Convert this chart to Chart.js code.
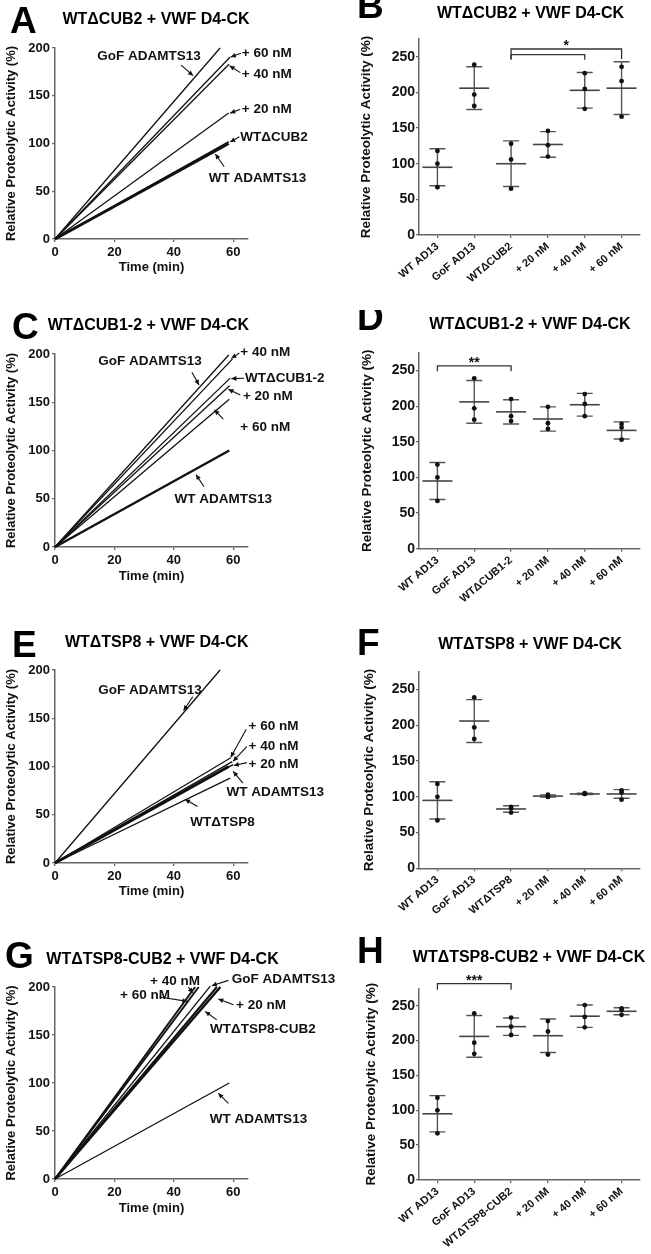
<!DOCTYPE html>
<html>
<head>
<meta charset="utf-8">
<script src="https://cdn.jsdelivr.net/npm/chart.js@4.4.1/dist/chart.umd.min.js"></script>
<style>
  body { margin: 0; background: #fff; }
  #fig { position: relative; width: 651px; height: 1254px; overflow: hidden; background: #fff; }
  canvas { position: absolute; }
</style>
</head>
<body>
<div id="fig">
  <canvas id="cA" width="340" height="310" style="left:0;top:0"></canvas>
  <canvas id="cC" width="340" height="310" style="left:0;top:310px"></canvas>
  <canvas id="cE" width="340" height="310" style="left:0;top:620px"></canvas>
  <canvas id="cG" width="340" height="324" style="left:0;top:930px"></canvas>
  <canvas id="cB" width="326" height="310" style="left:325px;top:0"></canvas>
  <canvas id="cD" width="326" height="310" style="left:325px;top:310px"></canvas>
  <canvas id="cF" width="326" height="310" style="left:325px;top:620px"></canvas>
  <canvas id="cH" width="326" height="324" style="left:325px;top:930px"></canvas>
</div>
<script>
const FONT = "'Liberation Sans', Arial, Helvetica, sans-serif"
const INK = '#111'
const AXIS = '#666'
const Y_TITLE = 'Relative Proteolytic Activity (%)'

// ---- time course panels (A, C, E, G): each line runs from 0 to its end point
const linesA = ['GoF ADAMTS13', '+ 60 nM', '+ 40 nM', '+ 20 nM', 'WTΔCUB2', 'WT ADAMTS13']
const endTimeA = [55.6, 59, 58.6, 58.5, 58.5, 58.5]
const endActA = [200, 190.5, 183, 132, 102, 100]

const linesC = ['GoF ADAMTS13', '+ 40 nM', 'WTΔCUB1-2', '+ 20 nM', '+ 60 nM', 'WT ADAMTS13']
const endTimeC = [58.5, 59.8, 59, 58.8, 58.7, 58.7]
const endActC = [199, 195, 175, 167, 153, 100]

const linesE = ['GoF ADAMTS13', '+ 60 nM', '+ 40 nM', '+ 20 nM', 'WT ADAMTS13', 'WTΔTSP8']
const endTimeE = [55.6, 59.2, 59.7, 60, 58.5, 59]
const endActE = [200, 109, 105, 102, 100, 88]

const linesG = ['+ 60 nM', '+ 40 nM', 'GoF ADAMTS13', '+ 20 nM', 'WTΔTSP8-CUB2', 'WT ADAMTS13']
const endTimeG = [47.2, 48.4, 52.3, 54.5, 55.7, 58.7]
const endActG = [200, 200, 201, 200, 200, 100]

// ---- dot plot panels (B, D, F, H)
const catsB = ['WT AD13', 'GoF AD13', 'WTΔCUB2', '+ 20 nM', '+ 40 nM', '+ 60 nM']
const meanB = [95, 206, 100, 127, 203, 206]
const sdB = [26, 30, 32, 18, 25, 37]
const rep1B = [118, 239, 128, 146, 227, 236]
const rep2B = [100, 197, 106, 126, 205, 216]
const rep3B = [67, 181, 65, 110, 177, 166]

const catsD = ['WT AD13', 'GoF AD13', 'WTΔCUB1-2', '+ 20 nM', '+ 40 nM', '+ 60 nM']
const meanD = [95, 206, 192, 182, 202, 166]
const sdD = [26, 30, 17, 17, 16, 12]
const rep1D = [118, 239, 210, 199, 217, 175]
const rep2D = [100, 197, 186, 176, 203, 170]
const rep3D = [67, 181, 179, 168, 186, 153]

const catsF = ['WT AD13', 'GoF AD13', 'WTΔTSP8', '+ 20 nM', '+ 40 nM', '+ 60 nM']
const meanF = [95, 206, 83, 101, 104, 104]
const sdF = [26, 30, 4.5, 1.5, 1, 6]
const rep1F = [118, 239, 86, 103, 105, 109]
const rep2F = [100, 197, 84, 100, 104, 106]
const rep3F = [67, 181, 78, 100, 104, 96]

const catsH = ['WT AD13', 'GoF AD13', 'WTΔTSP8-CUB2', '+ 20 nM', '+ 40 nM', '+ 60 nM']
const meanH = [95, 206, 220, 207, 235, 242]
const sdH = [26, 30, 12.5, 24, 16, 5]
const rep1H = [118, 239, 233, 228, 251, 246]
const rep2H = [100, 197, 220, 213, 234, 244]
const rep3H = [67, 181, 208, 180, 219, 237]

// line widths per series (style, not data)
const widthA = [1.3, 1.3, 1.3, 1.3, 1.3, 3]
const widthC = [1.3, 1.3, 1.3, 1.3, 1.3, 2.4]
const widthE = [1.3, 1.3, 1.3, 1.3, 3, 1.3]
const widthG = [2, 2, 1.3, 2, 2.4, 1.3]

function panelText(letter, title) {
  return {
    id: 'panelText',
    afterDraw(chart) {
      const ctx = chart.ctx
      ctx.save()
      ctx.fillStyle = '#000'
      ctx.textAlign = 'left'
      ctx.textBaseline = 'alphabetic'
      ctx.font = `bold 37px ${FONT}`
      ctx.fillText(letter.text, letter.x, letter.y)
      ctx.textAlign = 'center'
      ctx.textBaseline = 'middle'
      ctx.font = `bold 16px ${FONT}`
      ctx.fillText(title.text, title.x, title.y)
      ctx.restore()
    }
  }
}

function drawArrow(ctx, x1, y1, x2, y2) {
  ctx.beginPath()
  ctx.moveTo(x1, y1)
  ctx.lineTo(x2, y2)
  ctx.stroke()
  const a = Math.atan2(y2 - y1, x2 - x1)
  const L = 5, w = 2.4
  ctx.beginPath()
  ctx.moveTo(x2, y2)
  ctx.lineTo(x2 - L * Math.cos(a) + w * Math.sin(a), y2 - L * Math.sin(a) - w * Math.cos(a))
  ctx.lineTo(x2 - L * Math.cos(a) - w * Math.sin(a), y2 - L * Math.sin(a) + w * Math.cos(a))
  ctx.closePath()
  ctx.fill()
}

// labels with arrows, placed in data units
function callouts(notes) {
  return {
    id: 'callouts',
    afterDatasetsDraw(chart) {
      const { ctx, scales: { x, y } } = chart
      ctx.save()
      ctx.fillStyle = INK
      ctx.strokeStyle = INK
      ctx.lineWidth = 1.1
      ctx.font = `bold 13.5px ${FONT}`
      ctx.textBaseline = 'middle'
      notes.forEach(n => {
        ctx.textAlign = n.align
        ctx.fillText(n.text, x.getPixelForValue(n.tx), y.getPixelForValue(n.ty))
        const [x1, y1, x2, y2] = n.arrow
        drawArrow(ctx, x.getPixelForValue(x1), y.getPixelForValue(y1), x.getPixelForValue(x2), y.getPixelForValue(y2))
      })
      ctx.restore()
    }
  }
}

function errorBars(mean, sd) {
  return {
    id: 'errorBars',
    beforeDatasetsDraw(chart) {
      const { ctx, scales: { x, y } } = chart
      ctx.save()
      mean.forEach((m, i) => {
        const cx = x.getPixelForValue(i)
        const ym = y.getPixelForValue(m)
        const yt = y.getPixelForValue(m + sd[i])
        const yb = y.getPixelForValue(m - sd[i])
        ctx.strokeStyle = '#555'
        ctx.lineWidth = 1.4
        ctx.beginPath()
        ctx.moveTo(cx, yt); ctx.lineTo(cx, yb)
        ctx.moveTo(cx - 8, yt); ctx.lineTo(cx + 8, yt)
        ctx.moveTo(cx - 8, yb); ctx.lineTo(cx + 8, yb)
        ctx.stroke()
        ctx.strokeStyle = '#444'
        ctx.lineWidth = 1.6
        ctx.beginPath()
        ctx.moveTo(cx - 15, ym); ctx.lineTo(cx + 15, ym)
        ctx.stroke()
      })
      ctx.restore()
    }
  }
}

function sigBrackets(list) {
  return {
    id: 'sigBrackets',
    afterDraw(chart) {
      const { ctx, scales: { x, y } } = chart
      ctx.save()
      ctx.strokeStyle = '#333'
      ctx.fillStyle = INK
      ctx.lineWidth = 1.3
      list.forEach(b => {
        const x1 = x.getPixelForValue(b.from), x2 = x.getPixelForValue(b.to)
        const yy = y.getPixelForValue(b.y), ye = y.getPixelForValue(b.end)
        ctx.beginPath()
        ctx.moveTo(x1, ye); ctx.lineTo(x1, yy); ctx.lineTo(x2, yy); ctx.lineTo(x2, ye)
        ctx.stroke()
        if (b.label) {
          ctx.font = `bold 14px ${FONT}`
          ctx.textAlign = 'center'
          ctx.textBaseline = 'alphabetic'
          ctx.fillText(b.label, (x1 + x2) / 2, yy + 1)
        }
      })
      ctx.restore()
    }
  }
}

const gridOpts = { display: true, drawOnChartArea: false, drawTicks: true, tickLength: 3, color: AXIS, lineWidth: 1.3 }
const borderOpts = { display: true, color: AXIS, width: 1.5 }

function timeChart(id, cfg) {
  const canvas = document.getElementById(id)
  const W = canvas.width, H = canvas.height
  const { area } = cfg
  new Chart(canvas, {
    type: 'scatter',
    data: {
      datasets: cfg.names.map((name, i) => ({
        label: name,
        data: [{ x: 0, y: 0 }, { x: cfg.endT[i], y: cfg.endV[i] }],
        showLine: true,
        borderColor: INK,
        borderWidth: cfg.widths[i],
        pointRadius: 0,
        clip: false
      }))
    },
    options: {
      responsive: false,
      animation: false,
      events: [],
      layout: { padding: { left: 0, top: area.top, right: W - area.right, bottom: 0 } },
      plugins: { legend: { display: false }, tooltip: { enabled: false } },
      scales: {
        x: {
          type: 'linear', min: 0, max: 65,
          afterFit: s => { s.height = H - area.bottom },
          ticks: { stepSize: 20, includeBounds: false, color: INK, padding: 3, font: { family: FONT, size: 13, weight: 'bold' } },
          grid: gridOpts, border: borderOpts,
          title: { display: true, text: 'Time (min)', color: INK, font: { family: FONT, size: 13, weight: 'bold' }, padding: { top: 0, bottom: cfg.xTitlePad } }
        },
        y: {
          min: 0, max: 200,
          afterFit: s => { s.width = area.left },
          ticks: { stepSize: 50, color: INK, padding: 2, font: { family: FONT, size: 13, weight: 'bold' } },
          grid: gridOpts, border: borderOpts,
          title: { display: true, text: Y_TITLE, color: INK, font: { family: FONT, size: 13, weight: 'bold' }, padding: { top: 4, bottom: 0 } }
        }
      }
    },
    plugins: [panelText(cfg.letter, cfg.title), callouts(cfg.notes)]
  })
}

function dotChart(id, cfg) {
  const canvas = document.getElementById(id)
  const W = canvas.width, H = canvas.height
  const { area } = cfg
  new Chart(canvas, {
    type: 'line',
    data: {
      labels: cfg.cats,
      datasets: cfg.reps.map(r => ({
        data: r, showLine: false, pointRadius: 2.4, pointBorderWidth: 0,
        pointBackgroundColor: INK, clip: false
      }))
    },
    options: {
      responsive: false,
      animation: false,
      events: [],
      layout: { padding: { left: 0, top: area.top, right: W - area.right, bottom: 0 } },
      plugins: { legend: { display: false }, tooltip: { enabled: false } },
      scales: {
        x: {
          type: 'category', offset: true,
          afterFit: s => { s.height = H - area.bottom },
          ticks: { autoSkip: false, minRotation: 40, maxRotation: 40, color: INK, padding: 2, font: { family: FONT, size: 11, weight: 'bold' } },
          grid: gridOpts, border: borderOpts
        },
        y: {
          min: 0, max: 275,
          afterFit: s => { s.width = area.left },
          ticks: { stepSize: 50, includeBounds: false, color: INK, padding: 1, font: { family: FONT, size: 14, weight: 'bold' } },
          grid: gridOpts, border: borderOpts,
          title: { display: true, text: Y_TITLE, color: INK, font: { family: FONT, size: 13.5, weight: 'bold' }, padding: { top: cfg.yTitlePad, bottom: 0 } }
        }
      }
    },
    plugins: [panelText(cfg.letter, cfg.title), errorBars(cfg.mean, cfg.sd), sigBrackets(cfg.brackets)]
  })
}

timeChart('cA', {
  names: linesA, endT: endTimeA, endV: endActA, widths: widthA,
  area: { left: 55, right: 248, top: 48, bottom: 239 }, xTitlePad: 35,
  letter: { text: 'A', x: 10, y: 33 },
  title: { text: 'WTΔCUB2 + VWF D4-CK', x: 156, y: 20 },
  notes: [
    { text: 'GoF ADAMTS13', tx: 31.7, ty: 191.6, align: 'center', arrow: [42.5, 182, 46.5, 171] },
    { text: '+ 60 nM', tx: 62.9, ty: 194.4, align: 'left', arrow: [62.6, 194.4, 59.2, 190.5] },
    { text: '+ 40 nM', tx: 62.9, ty: 172.8, align: 'left', arrow: [62.4, 174.2, 58.8, 181.5] },
    { text: '+ 20 nM', tx: 62.9, ty: 135.8, align: 'left', arrow: [62.4, 135.8, 59, 131.8] },
    { text: 'WTΔCUB2', tx: 62.4, ty: 107, align: 'left', arrow: [62.1, 107, 59, 101.5] },
    { text: 'WT ADAMTS13', tx: 68.2, ty: 63.6, align: 'center', arrow: [57, 75.7, 54, 89] }
  ]
})

timeChart('cC', {
  names: linesC, endT: endTimeC, endV: endActC, widths: widthC,
  area: { left: 55, right: 248, top: 44, bottom: 237 }, xTitlePad: 35.5,
  letter: { text: 'C', x: 12, y: 29 },
  title: { text: 'WTΔCUB1-2 + VWF D4-CK', x: 148.5, y: 16 },
  notes: [
    { text: 'GoF ADAMTS13', tx: 32, ty: 192, align: 'center', arrow: [46.1, 181, 48.5, 168] },
    { text: '+ 40 nM', tx: 62.4, ty: 201.8, align: 'left', arrow: [62.1, 201, 59.4, 195.5] },
    { text: 'WTΔCUB1-2', tx: 64, ty: 174.8, align: 'left', arrow: [63.7, 174.8, 59.4, 174.5] },
    { text: '+ 20 nM', tx: 63.3, ty: 155.8, align: 'left', arrow: [62.4, 157.5, 58.4, 163.4] },
    { text: '+ 60 nM', tx: 62.4, ty: 124, align: 'left', arrow: [56.7, 132.6, 53.7, 142] },
    { text: 'WT ADAMTS13', tx: 56.7, ty: 49.7, align: 'center', arrow: [50.2, 62.5, 47.5, 75] }
  ]
})

timeChart('cE', {
  names: linesE, endT: endTimeE, endV: endActE, widths: widthE,
  area: { left: 55, right: 248, top: 50, bottom: 243 }, xTitlePad: 30.5,
  letter: { text: 'E', x: 12, y: 37 },
  title: { text: 'WTΔTSP8 + VWF D4-CK', x: 156.7, y: 22.7 },
  notes: [
    { text: 'GoF ADAMTS13', tx: 32, ty: 178.5, align: 'center', arrow: [46.4, 172.3, 43.3, 158] },
    { text: '+ 60 nM', tx: 65.2, ty: 142, align: 'left', arrow: [64.4, 138.6, 59.2, 109.5] },
    { text: '+ 40 nM', tx: 65.2, ty: 120.6, align: 'left', arrow: [64.6, 120.6, 60, 105.5] },
    { text: '+ 20 nM', tx: 65.2, ty: 102.4, align: 'left', arrow: [64.6, 104, 60.2, 101] },
    { text: 'WT ADAMTS13', tx: 74.2, ty: 73, align: 'center', arrow: [63.3, 82.7, 60, 95] },
    { text: 'WTΔTSP8', tx: 56.4, ty: 42.4, align: 'center', arrow: [48, 58.6, 43.8, 66] }
  ]
})

timeChart('cG', {
  names: linesG, endT: endTimeG, endV: endActG, widths: widthG,
  area: { left: 55, right: 248, top: 57, bottom: 249 }, xTitlePad: 38,
  letter: { text: 'G', x: 5, y: 38 },
  title: { text: 'WTΔTSP8-CUB2 + VWF D4-CK', x: 162.5, y: 29.3 },
  notes: [
    { text: '+ 40 nM', tx: 40.4, ty: 205.8, align: 'center', arrow: [44.9, 200, 46.4, 193.7] },
    { text: '+ 60 nM', tx: 30.3, ty: 190.9, align: 'center', arrow: [35.2, 189.6, 44.6, 185] },
    { text: 'GoF ADAMTS13', tx: 59.5, ty: 208.3, align: 'left', arrow: [58.4, 206.9, 52.8, 201.4] },
    { text: '+ 20 nM', tx: 61, ty: 180.5, align: 'left', arrow: [60.1, 181.5, 55, 187.5] },
    { text: 'WTΔTSP8-CUB2', tx: 52.2, ty: 156.1, align: 'left', arrow: [54.5, 165.8, 50.6, 174.5] },
    { text: 'WT ADAMTS13', tx: 68.5, ty: 62.4, align: 'center', arrow: [58.4, 78.8, 55, 89.2] }
  ]
})

dotChart('cB', {
  cats: catsB, mean: meanB, sd: sdB, reps: [rep1B, rep2B, rep3B],
  area: { left: 94, right: 315, top: 39, bottom: 235 }, yTitlePad: 33,
  letter: { text: 'B', x: 32, y: 18 },
  title: { text: 'WTΔCUB2 + VWF D4-CK', x: 205.5, y: 14 },
  brackets: [
    { from: 2, to: 5, y: 261, end: 247, label: '*' },
    { from: 2, to: 4, y: 253, end: 246 }
  ]
})

dotChart('cD', {
  cats: catsD, mean: meanD, sd: sdD, reps: [rep1D, rep2D, rep3D],
  area: { left: 94, right: 315, top: 42.7, bottom: 238.7 }, yTitlePad: 34,
  letter: { text: 'D', x: 32, y: 20 },
  title: { text: 'WTΔCUB1-2 + VWF D4-CK', x: 205, y: 15 },
  brackets: [{ from: 0, to: 2, y: 256.5, end: 249, label: '**' }]
})

dotChart('cF', {
  cats: catsF, mean: meanF, sd: sdF, reps: [rep1F, rep2F, rep3F],
  area: { left: 94, right: 315, top: 51.7, bottom: 248.3 }, yTitlePad: 36,
  letter: { text: 'F', x: 32, y: 35 },
  title: { text: 'WTΔTSP8 + VWF D4-CK', x: 205, y: 25 },
  brackets: []
})

dotChart('cH', {
  cats: catsH, mean: meanH, sd: sdH, reps: [rep1H, rep2H, rep3H],
  area: { left: 94, right: 315, top: 58.3, bottom: 250 }, yTitlePad: 38,
  letter: { text: 'H', x: 32, y: 33 },
  title: { text: 'WTΔTSP8-CUB2 + VWF D4-CK', x: 204, y: 27.3 },
  brackets: [{ from: 0, to: 2, y: 281.6, end: 273, label: '***' }]
})
</script>
</body>
</html>
